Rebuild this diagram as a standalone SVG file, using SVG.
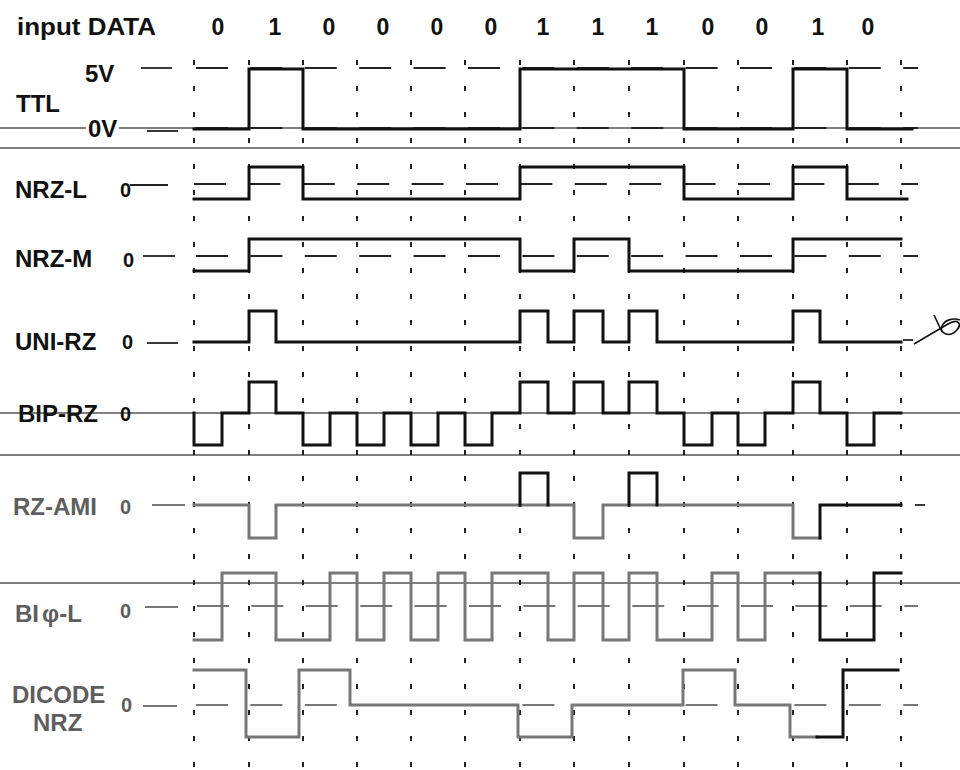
<svg xmlns="http://www.w3.org/2000/svg" width="960" height="770" viewBox="0 0 960 770">
<defs>
<style>
text{font-family:"Liberation Sans",Arial,sans-serif;font-weight:bold;fill:#111}
.lbl{font-size:24px}
.z{font-size:20px}
.dig{font-size:23px;text-anchor:middle}
.g{fill:#5e5e5e}
.wave{fill:none;stroke:#111;stroke-width:3;stroke-linejoin:miter;stroke-linecap:square}
.wg{fill:none;stroke:#777;stroke-width:3;stroke-linecap:square}
.ref{fill:none;stroke:#222;stroke-width:1.8;stroke-dasharray:32 22.4}
.refg{fill:none;stroke:#777;stroke-width:1.8;stroke-dasharray:32 22.4}
.tick{stroke:#222;stroke-width:1.8}
.tickg{stroke:#777;stroke-width:1.8}
.grid line{stroke:#222;stroke-width:2;stroke-dasharray:5 21}
.sep{stroke:#555;stroke-width:1.6}
</style>
</defs>
<rect width="960" height="770" fill="#fff"/>

<!-- separators / full width base lines -->
<g id="separators">
<line class="sep" x1="0" y1="128" x2="86" y2="128"/>
<line class="sep" x1="119" y1="128" x2="960" y2="128"/>
<line class="sep" x1="0" y1="148" x2="960" y2="148"/>
<line class="sep" x1="0" y1="413" x2="960" y2="413"/>
<line class="sep" x1="0" y1="455" x2="960" y2="455" stroke="#666"/>
<line class="sep" x1="0" y1="583" x2="960" y2="583" stroke="#777"/>
</g>

<!-- vertical bit-boundary grid -->
<g id="grid" class="grid">
<line x1="194" y1="60" x2="194" y2="770"/>
<line x1="249" y1="60" x2="249" y2="770"/>
<line x1="303" y1="60" x2="303" y2="770"/>
<line x1="357" y1="60" x2="357" y2="770"/>
<line x1="411" y1="60" x2="411" y2="770"/>
<line x1="465" y1="60" x2="465" y2="770"/>
<line x1="520" y1="60" x2="520" y2="770"/>
<line x1="574" y1="60" x2="574" y2="770"/>
<line x1="629" y1="60" x2="629" y2="770"/>
<line x1="684" y1="60" x2="684" y2="770"/>
<line x1="738" y1="60" x2="738" y2="770"/>
<line x1="793" y1="60" x2="793" y2="770"/>
<line x1="847" y1="60" x2="847" y2="770"/>
<line x1="901" y1="60" x2="901" y2="770"/>
</g>

<g id="header">
<text class="lbl" x="17" y="35" textLength="139" lengthAdjust="spacingAndGlyphs">input DATA</text>
<text class="dig" x="218" y="35">0</text>
<text class="dig" x="275" y="35">1</text>
<text class="dig" x="329" y="35">0</text>
<text class="dig" x="383" y="35">0</text>
<text class="dig" x="437" y="35">0</text>
<text class="dig" x="491" y="35">0</text>
<text class="dig" x="543" y="35">1</text>
<text class="dig" x="598" y="35">1</text>
<text class="dig" x="652" y="35">1</text>
<text class="dig" x="708" y="35">0</text>
<text class="dig" x="762" y="35">0</text>
<text class="dig" x="818" y="35">1</text>
<text class="dig" x="868" y="35">0</text>
</g>

<g id="ttl">
<text class="lbl" x="85" y="82">5V</text>
<text class="lbl" x="16" y="112">TTL</text>
<text class="lbl" x="88" y="137">0V</text>
<line class="tick" x1="141" y1="68" x2="172" y2="68"/>
<line class="tick" x1="147" y1="131" x2="178" y2="131" stroke-width="2.5"/>
<path class="ref" d="M196,68 H918"/>
<path class="ref" d="M196,128 H918"/>
<path class="wave" d="M194,129 H249 V69 H303 V129 H520 V69 H684 V129 H793 V69 H847 V129 H912"/>
</g>

<g id="nrz-l">
<text class="lbl" x="15" y="198">NRZ-L</text>
<text class="z" x="120" y="197">0</text>
<line class="tick" x1="130" y1="185" x2="168" y2="185"/>
<path class="ref" d="M194,184 H918"/>
<path class="wave" d="M194,199 H249 V167 H303 V199 H520 V167 H684 V199 H793 V167 H847 V199 H907"/>
</g>

<g id="nrz-m">
<text class="lbl" x="15" y="267">NRZ-M</text>
<text class="z" x="123" y="267">0</text>
<line class="tick" x1="143" y1="256" x2="175" y2="256"/>
<path class="ref" d="M196,256 H918"/>
<path class="wave" d="M194,271 H249 V239 H520 V271 H574 V239 H629 V271 H793 V239 H901"/>
</g>

<g id="uni-rz">
<text class="lbl" x="15" y="350">UNI-RZ</text>
<text class="z" x="122" y="349" font-size="18">0</text>
<line class="tick" x1="147" y1="343" x2="178" y2="343"/>
<path class="wave" d="M194,342 H249 V311 H276 V342 H520 V311 H548 V342 H574 V311 H603 V342 H629 V311 H657 V342 H793 V311 H820 V342 H901"/>
<line class="tick" x1="903" y1="340" x2="913" y2="340"/>
<path fill="none" stroke="#111" stroke-width="1.6" d="M914,344 C926,337 938,330 948,324 C958,318 963,324 956,331 C949,338 939,333 942,326 C945,319 954,318 960,320 M934,315 L942,332"/>
</g>

<g id="bip-rz">
<text class="lbl" x="18" y="422">BIP-RZ</text>
<text class="z" x="120" y="421">0</text>
<path class="wave" d="M194,413 V445 H222 V413 H249 V382 H276 V413 H303 V445 H330 V413 H357 V445 H384 V413 H411 V445 H438 V413 H465 V445 H492 V413 H520 V382 H548 V413 H574 V382 H603 V413 H629 V382 H657 V413 H684 V445 H712 V413 H738 V445 H765 V413 H793 V382 H820 V413 H847 V445 H874 V413 H901"/>
</g>

<g id="rz-ami">
<text class="lbl g" x="13" y="515">RZ-AMI</text>
<text class="z g" x="120" y="514">0</text>
<line class="tickg" x1="152" y1="505" x2="185" y2="505"/>
<path class="wg" d="M194,505 H249 V538 H276 V505 H574 V538 H603 V505 H793 V538 H820"/>
<path class="wave" d="M520,505 V473 H548 V505 M629,505 V473 H657 V505"/>
<path class="wave" d="M820,538 V505 H901"/>
<line class="tick" x1="915" y1="505" x2="925" y2="505" stroke="#777"/>
</g>

<g id="biphase-l">
<text class="lbl g" x="15" y="622">BI<tspan dx="3">φ</tspan>-L</text>
<text class="z g" x="120" y="618">0</text>
<line class="tickg" x1="145" y1="607" x2="178" y2="607"/>
<path class="refg" d="M197,606 H918"/>
<path class="wg" d="M194,640 H222 V573 H276 V640 H330 V573 H357 V640 H384 V573 H411 V640 H438 V573 H465 V640 H492 V573 H548 V640 H574 V573 H603 V640 H629 V573 H657 V640 H712 V573 H738 V640 H765 V573 H820"/>
<path class="wave" d="M820,573 V640 H874 V573 H901"/>
</g>

<g id="dicode-nrz">
<text class="lbl g" x="12" y="703" font-size="23">DICODE</text>
<text class="lbl g" x="33" y="731" font-size="23">NRZ</text>
<text class="z g" x="121" y="712">0</text>
<line class="tickg" x1="143" y1="706" x2="177" y2="706"/>
<path class="refg" d="M196,705 H918"/>
<path class="wg" d="M194,670 H246 V737 H299 V670 H350 V705 H518 V737 H572 V705 H683 V670 H735 V705 H790 V737 H817"/>
<path class="wave" d="M817,737 H843 V670 H898"/>
</g>
</svg>
